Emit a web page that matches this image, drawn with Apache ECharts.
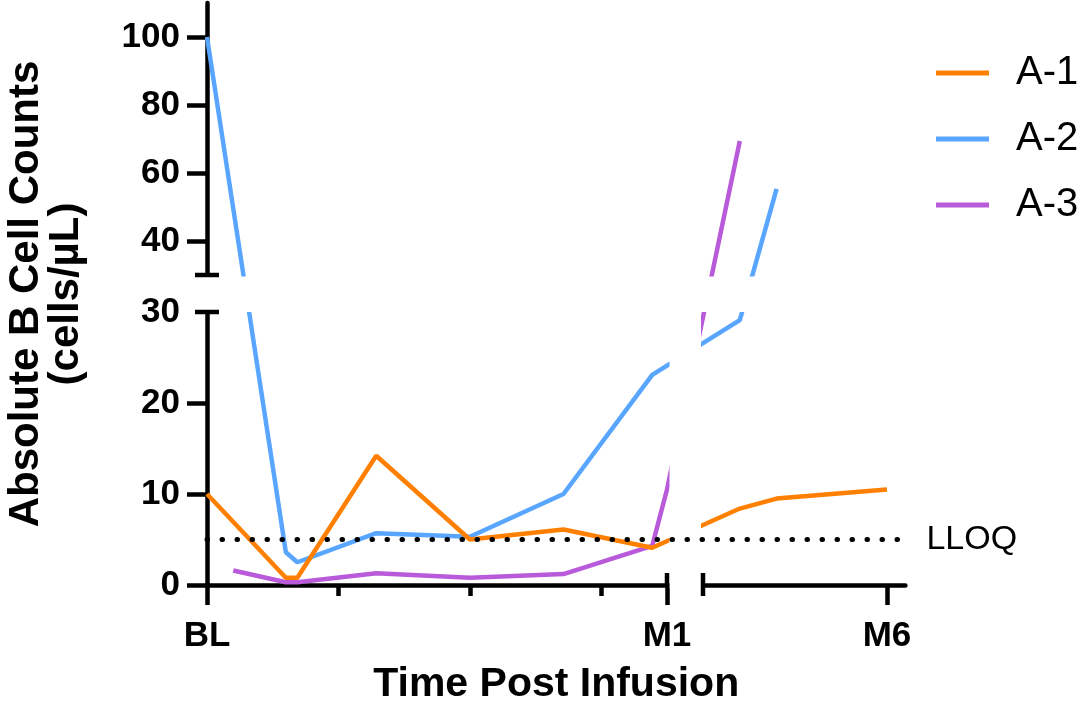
<!DOCTYPE html>
<html><head><meta charset="utf-8">
<script src="https://cdn.jsdelivr.net/npm/echarts@6.0.0/dist/echarts.min.js"></script>
<style>html,body{margin:0;padding:0;background:#fff}#c{width:1084px;height:706px}</style>
</head><body><div id="c"></div>
<script>
// ---------------- data ----------------
const seriesNames = ['A-1', 'A-2', 'A-3'];
const seriesColors = ['#FF8000', '#58A6FF', '#B85ADA'];
// early visits: time in days after infusion; late visits: time in months
const a1Days = [0, 4.8, 5.5, 10.3, 16, 21.7, 27.1];
const a1DayValues = [10, 0.8, 0.8, 14.2, 5.0, 6.1, 4.1];
const a1Months = [2, 3, 6];
const a1MonthValues = [8.4, 9.5, 10.5];
const a2Days = [0, 4.8, 5.5, 10.3, 16, 21.7, 27.1];
const a2DayValues = [100, 3.6, 2.5, 5.7, 5.3, 10.0, 23.1];
const a2Months = [2, 3];
const a2MonthValues = [29.1, 55.3];
const a3Days = [1.6, 4.8, 5.5, 10.3, 16, 21.7, 27.1, 28];
const a3DayValues = [1.6, 0.3, 0.3, 1.3, 0.8, 1.2, 4.3, 10.5];
const a3Months = [2];
const a3MonthValues = [69.4];
const lloqValue = 5;
const yLowerTicks = [0, 10, 20, 30];
const yUpperTicks = [40, 60, 80, 100];
const xTickLabels = ['BL', 'M1', 'M6'];
const xTickDays = [0, 28];     // BL, M1
const xTickMonths = [6];       // M6
const xMinorTickDays = [8, 16, 24];

// ---------------- broken-axis layout ----------------
const Y_BREAK = 30, Y_TOP = 110;
const LOW_H = 273, GAP_H = 37, UP_H = 272;
const X_LEFT_END = 28, X_RIGHT_START = 1, X_RIGHT_END = 6.5;
const LEFT_W = 460, GAP_W = 36, RIGHT_W = 202.4;
const yv = r => r <= Y_BREAK ? r / Y_BREAK * LOW_H
                             : LOW_H + GAP_H + (r - Y_BREAK) / (Y_TOP - Y_BREAK) * UP_H;
const xd = d => d / X_LEFT_END * LEFT_W;
const xm = m => LEFT_W + GAP_W + (m - X_RIGHT_START) / (X_RIGHT_END - X_RIGHT_START) * RIGHT_W;
const X_MAX = LEFT_W + GAP_W + RIGHT_W, Y_MAX = LOW_H + GAP_H + UP_H;

function build(days, dayVals, months, monthVals) {
  return days.map((d, i) => [xd(d), yv(dayVals[i])])
    .concat(months.map((m, i) => [xm(m), yv(monthVals[i])]));
}
const allData = [
  build(a1Days, a1DayValues, a1Months, a1MonthValues),
  build(a2Days, a2DayValues, a2Months, a2MonthValues),
  build(a3Days, a3DayValues, a3Months, a3MonthValues)
];

const key = v => Math.round(v * 1000);
const yLabelMap = {};
yLowerTicks.forEach(t => yLabelMap[key(yv(t))] = String(t));
yUpperTicks.forEach(t => yLabelMap[key(yv(t))] = String(t));
const yTickVals = yLowerTicks.filter(t => t < Y_BREAK).map(yv).concat(yUpperTicks.map(yv));
const yLabelVals = yLowerTicks.map(yv).concat(yUpperTicks.map(yv));
const xTickVals = xTickDays.map(xd).concat(xTickMonths.map(xm));
const xLabelMap = {};
xTickVals.forEach((v, i) => xLabelMap[key(v)] = xTickLabels[i]);

const FONT = 'Arial, "Liberation Sans", Helvetica, sans-serif';
const LW = 4.5;

const chart = echarts.init(document.getElementById('c'), null, {renderer: 'canvas'});
const option = {
  animation: false,
  backgroundColor: '#fff',
  grid: {left: 207, top: 585 - Y_MAX, width: X_MAX, height: Y_MAX, outerBoundsMode: 'none', containLabel: false},
  legend: {
    data: seriesNames, orient: 'vertical', left: 936, top: 53, padding: 0,
    icon: 'rect', itemWidth: 53, itemHeight: 5, itemGap: 26,
    textStyle: {fontFamily: FONT, fontSize: 40, lineHeight: 40, color: '#000', padding: [0, 0, 0, 22]}
  },
  xAxis: [{
    type: 'value', min: 0, max: X_MAX, position: 'bottom',
    name: 'Time Post Infusion', nameLocation: 'middle', nameGap: 79,
    nameTextStyle: {fontFamily: FONT, fontSize: 41, fontWeight: 'bold', color: '#000'},
    axisLine: {show: true, lineStyle: {color: '#000', width: LW}},
    axisTick: {show: true, length: 20, customValues: xTickVals, lineStyle: {color: '#000', width: LW}},
    axisLabel: {show: true, customValues: xTickVals, margin: 34,
      formatter: v => xLabelMap[key(v)] || '',
      fontFamily: FONT, fontSize: 35, fontWeight: 'bold', color: '#000'},
    splitLine: {show: false}
  }, {
    type: 'value', min: 0, max: X_MAX, position: 'bottom', gridIndex: 0,
    axisLine: {show: false},
    axisTick: {show: true, length: 11, customValues: xMinorTickDays.map(xd), lineStyle: {color: '#000', width: LW}},
    axisLabel: {show: false},
    splitLine: {show: false}
  }],
  yAxis: {
    type: 'value', min: 0, max: Y_MAX,
    name: 'Absolute B Cell Counts\n(cells/µL)', nameLocation: 'middle', nameRotate: 90, nameGap: 121,
    nameTextStyle: {fontFamily: FONT, fontSize: 42, fontWeight: 'bold', color: '#000', lineHeight: 40, align: 'center'},
    axisLine: {show: true, lineStyle: {color: '#000', width: LW}},
    axisTick: {show: true, length: 20, customValues: yTickVals, lineStyle: {color: '#000', width: LW}},
    axisLabel: {show: true, customValues: yLabelVals, margin: 27,
      formatter: v => yLabelMap[key(v)] || '',
      fontFamily: FONT, fontSize: 35, fontWeight: 'bold', color: '#000'},
    splitLine: {show: false}
  },
  series: seriesNames.map((n, i) => ({
    name: n, type: 'line', data: allData[i], showSymbol: false, symbol: 'none',
    color: seriesColors[i], z: i === 0 ? 4 : 3,
    lineStyle: {color: seriesColors[i], width: LW}
  })).concat([{
    name: 'LLOQ', type: 'line', data: [], z: 20, silent: true,
    markLine: {
      z: 30, silent: true, symbol: ['none', 'none'], animation: false,
      lineStyle: {color: '#000', width: 5, type: [0.5, 14.5], cap: 'round'},
      label: {show: true, position: 'end', formatter: 'LLOQ', distance: 21,
        fontFamily: FONT, fontSize: 34, color: '#000'},
      emphasis: {disabled: true},
      data: [{yAxis: yv(lloqValue)}]
    }
  }])
};
chart.setOption(option);

// break marks: masks over the gaps and end caps, placed from the axis scales
const P = (x, y) => chart.convertToPixel({gridIndex: 0}, [x, y]);
const axX = P(0, 0)[0], axY = P(0, 0)[1];
const yLowTop = P(0, LOW_H)[1], yUpBot = P(0, LOW_H + GAP_H)[1];
const xLeftEnd = P(LEFT_W, 0)[0], xRightStart = P(LEFT_W + GAP_W, 0)[0];
const xRight = P(X_MAX, 0)[0];
const cap = (x1, y1, x2, y2) => ({type: 'line', z: 11, silent: true,
  shape: {x1, y1, x2, y2}, style: {stroke: '#000', lineWidth: LW}});
chart.setOption({graphic: [
  {type: 'rect', z: 10, silent: true,
   shape: {x: axX - 10, y: yUpBot + 1.5, width: xRight - axX + 20, height: yLowTop - yUpBot - 1.5},
   style: {fill: '#fff'}},
  {type: 'rect', z: 10, silent: true,
   shape: {x: xLeftEnd + 2.5, y: 0, width: xRightStart - xLeftEnd - 4.5, height: axY + 3},
   style: {fill: '#fff'}},
  cap(axX - 12, yUpBot, axX + 12, yUpBot),
  cap(axX - 12, yLowTop, axX + 12, yLowTop),
  cap(xLeftEnd, axY - 12, xLeftEnd, axY + 2),
  cap(xRightStart, axY - 12, xRightStart, axY + 11)
]});
</script>
</body></html>
